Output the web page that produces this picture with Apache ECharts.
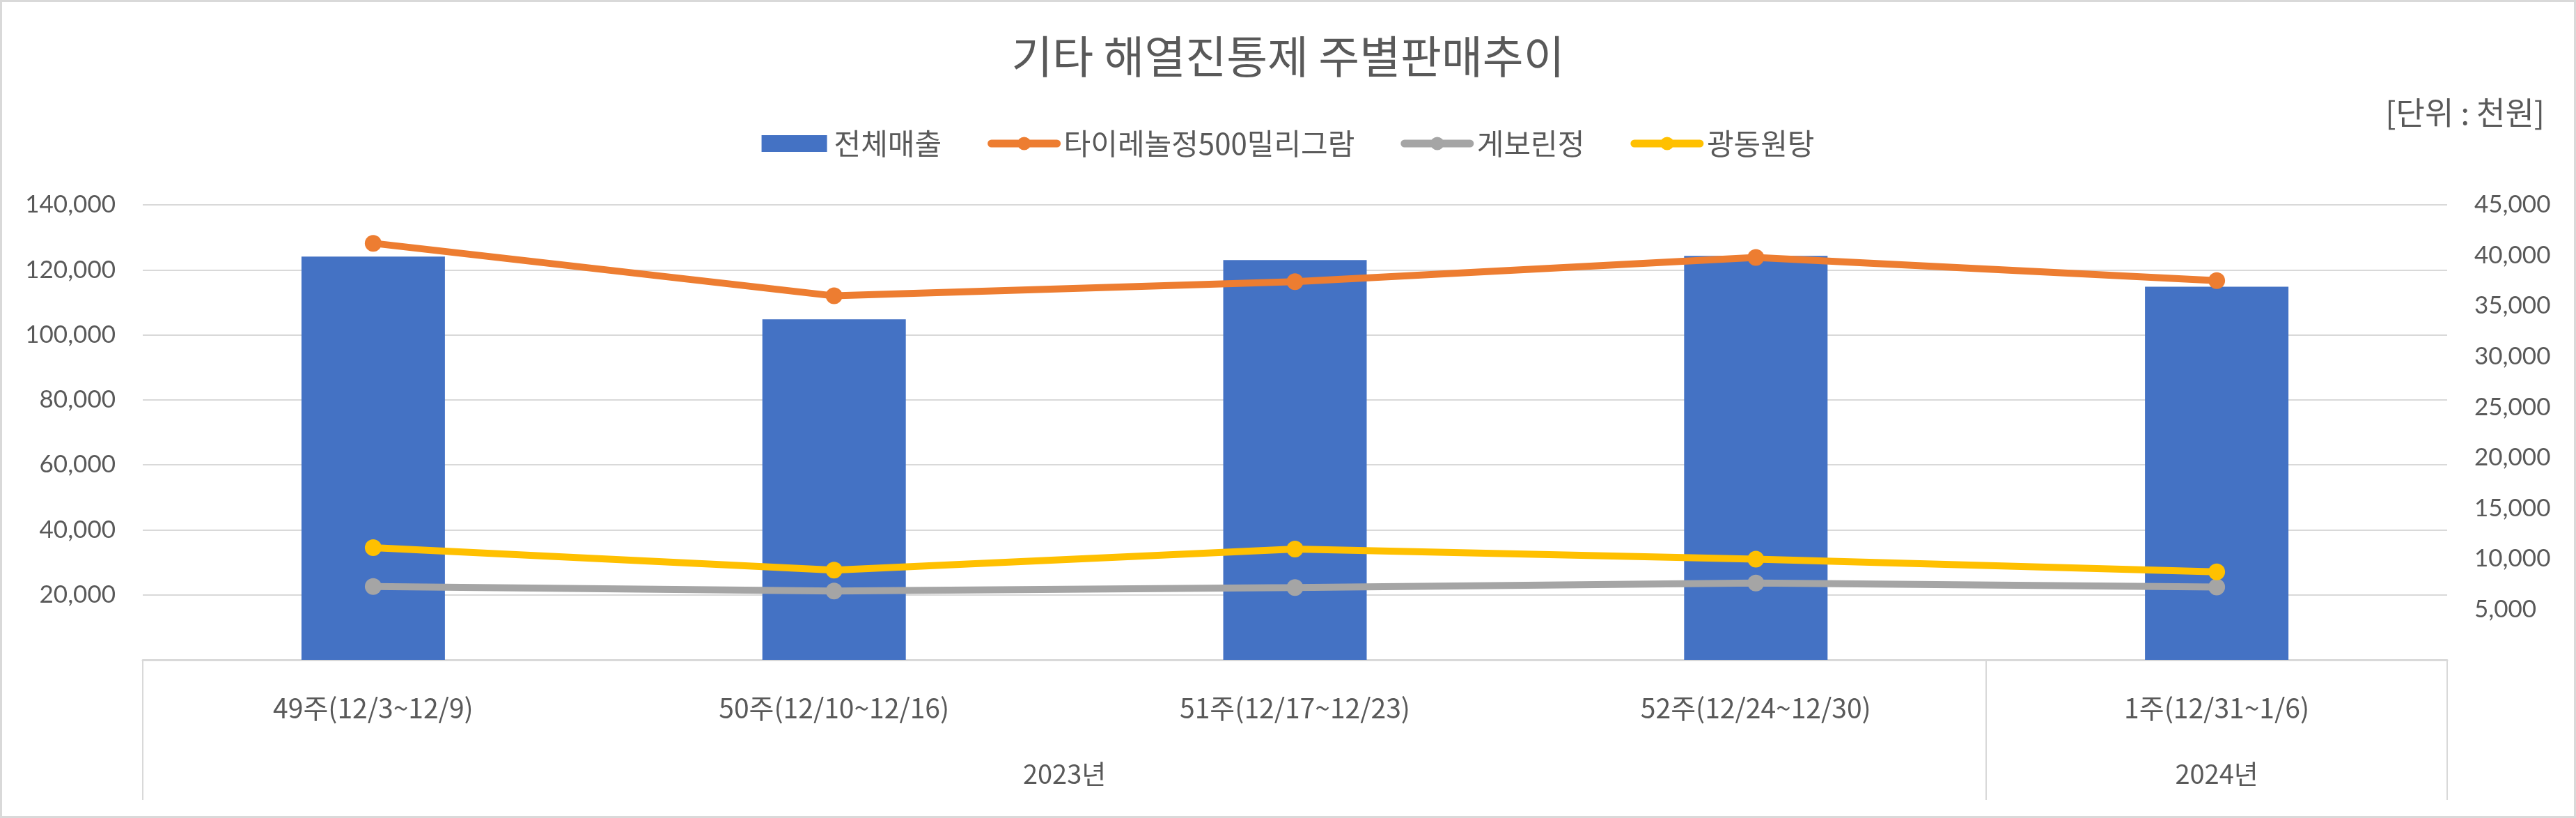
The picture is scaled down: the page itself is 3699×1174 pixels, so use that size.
<!DOCTYPE html>
<html>
<head>
<meta charset="utf-8">
<script src="https://cdn.jsdelivr.net/npm/echarts@6/dist/echarts.min.js"></script>
<style>
  html, body { margin: 0; padding: 0; background: #fff; }
  #chart { width: 3699px; height: 1174px; }
  .frame { position: absolute; left: 0; top: 0; width: 3699px; height: 1174px;
           box-sizing: border-box; border: 3px solid #d9d9d9; pointer-events: none; }
</style>
</head>
<body>
<div id="chart"></div>
<div class="frame"></div>
<script>
// 주차 / 연도
const weeks = ['49주(12/3~12/9)', '50주(12/10~12/16)', '51주(12/17~12/23)', '52주(12/24~12/30)', '1주(12/31~1/6)'];
const years = ['2023년', '2024년'];
const yearWeekCounts = [4, 1];

// 판매 데이터 (천원)
const totalSales = [124100, 104800, 123000, 124300, 114800];
const tylenol = [41200, 36000, 37400, 39800, 37500];
const geborin = [7250, 6800, 7150, 7600, 7200];
const gwangdong = [11100, 8870, 10950, 9950, 8700];

// 축 범위
const leftAxis = { min: 0, max: 140000, interval: 20000 };
const rightAxis = { min: 0, max: 45000, interval: 5000 };

// 연도 구분선 위치와 라벨 위치
const yearBounds = [0];
const yearCenters = [];
yearWeekCounts.forEach(function (n) {
  const start = yearBounds[yearBounds.length - 1];
  yearCenters.push(start + n / 2);
  yearBounds.push(start + n);
});

const textColor = '#595959';
const kr = '"Noto Sans CJK KR", sans-serif';
const fmt = function (v) { return v === 0 ? '' : v.toLocaleString('en-US'); };

const chart = echarts.init(document.getElementById('chart'));
chart.setOption({
  animation: false,
  color: ['#4472C4', '#ED7D31', '#A5A5A5', '#FFC000'],
  title: [
    {
      text: '기타 해열진통제 주별판매추이',
      left: 'center',
      top: 44,
      textStyle: { fontFamily: kr, fontSize: 64, fontWeight: 'normal', color: textColor }
    },
    {
      text: '[단위 : 천원]',
      right: 40,
      top: 134,
      textStyle: { fontFamily: kr, fontSize: 45, fontWeight: 'normal', color: textColor }
    }
  ],
  legend: {
    top: 180,
    left: 'center',
    itemWidth: 94,
    itemHeight: 24,
    itemGap: 66,
    lineStyle: { width: 11, cap: 'round' },
    textStyle: { fontFamily: kr, fontSize: 42, color: textColor, padding: [0, 0, 0, 5] },
    data: [
      { name: '전체매출', icon: 'rect' },
      '타이레놀정500밀리그람',
      '게보린정',
      '광동원탕'
    ]
  },
  grid: {
    left: 205,
    right: 185,
    top: 294,
    bottom: 227,
    containLabel: false,
    outerBoundsMode: 'none'
  },
  xAxis: [
    {
      type: 'category',
      data: weeks,
      axisTick: { show: false },
      axisLine: { lineStyle: { color: '#d9d9d9', width: 3 } },
      axisLabel: { margin: 50, fontFamily: kr, fontSize: 39, color: textColor }
    },
    {
      type: 'value',
      min: 0,
      max: weeks.length,
      position: 'bottom',
      splitLine: { show: false },
      axisLine: { show: false },
      axisTick: {
        show: true,
        customValues: yearBounds,
        length: 201,
        lineStyle: { color: '#d9d9d9', width: 2 }
      },
      axisLabel: {
        customValues: yearCenters,
        margin: 145,
        fontFamily: kr,
        fontSize: 38,
        color: textColor,
        formatter: function (v) {
          const i = yearCenters.indexOf(v);
          return i >= 0 ? years[i] : '';
        }
      }
    }
  ],
  yAxis: [
    {
      type: 'value',
      min: leftAxis.min,
      max: leftAxis.max,
      interval: leftAxis.interval,
      axisLine: { show: false },
      axisTick: { show: false },
      splitLine: { lineStyle: { color: '#d9d9d9', width: 2 } },
      axisLabel: { margin: 39, fontFamily: 'Lato, sans-serif', fontSize: 35, color: textColor, formatter: fmt }
    },
    {
      type: 'value',
      min: rightAxis.min,
      max: rightAxis.max,
      interval: rightAxis.interval,
      axisLine: { show: false },
      axisTick: { show: false },
      splitLine: { show: false },
      axisLabel: { margin: 39, fontFamily: 'Lato, sans-serif', fontSize: 35, color: textColor, formatter: fmt }
    }
  ],
  series: [
    {
      name: '전체매출',
      type: 'bar',
      xAxisIndex: 0,
      yAxisIndex: 0,
      barWidth: 206,
      data: totalSales
    },
    {
      name: '타이레놀정500밀리그람',
      type: 'line',
      xAxisIndex: 0,
      yAxisIndex: 1,
      symbol: 'circle',
      symbolSize: 24,
      lineStyle: { width: 10 },
      data: tylenol
    },
    {
      name: '게보린정',
      type: 'line',
      xAxisIndex: 0,
      yAxisIndex: 1,
      symbol: 'circle',
      symbolSize: 24,
      lineStyle: { width: 10 },
      data: geborin
    },
    {
      name: '광동원탕',
      type: 'line',
      xAxisIndex: 0,
      yAxisIndex: 1,
      symbol: 'circle',
      symbolSize: 24,
      lineStyle: { width: 10 },
      data: gwangdong
    }
  ]
});
</script>
</body>
</html>
